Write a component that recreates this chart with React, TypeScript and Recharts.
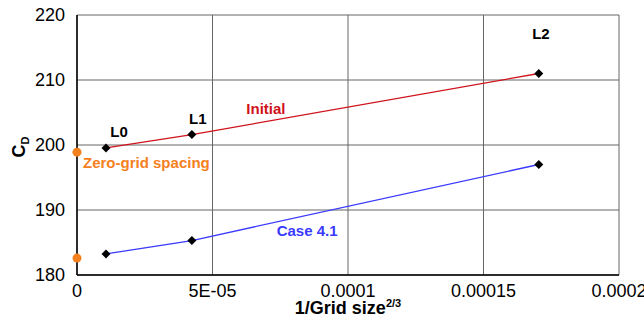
import React from "react";
import {
  ComposedChart,
  Line,
  Scatter,
  XAxis,
  YAxis,
  CartesianGrid,
  ReferenceDot,
} from "recharts";

const xTicks = [0, 0.00005, 0.0001, 0.00015, 0.0002];
const xTickLabels = ["0", "5E-05", "0.0001", "0.00015", "0.0002"];
const yTicks = [180, 190, 200, 210, 220];

const gridX = [0.0000107, 0.0000424, 0.0001704];
const initialCd = [199.55, 201.6, 211.0];
const case41Cd = [183.25, 185.3, 197.0];
const zeroGridCd = [198.9, 182.6];

const initialData = gridX.map((x, i) => ({ x, cd: initialCd[i] }));
const caseData = gridX.map((x, i) => ({ x, cd: case41Cd[i] }));
const zeroData = zeroGridCd.map((cd) => ({ x: 0, cd }));

// text annotations, placed in data space
const notes = [
  { text: "L0", x: 0.0000155, y: 202.05, color: "#000" },
  { text: "L1", x: 0.0000446, y: 204.13, color: "#000" },
  { text: "L2", x: 0.0001712, y: 217.23, color: "#000" },
  { text: "Initial", x: 0.0000697, y: 205.67, color: "#d0121b" },
  { text: "Case 4.1", x: 0.0000849, y: 186.87, color: "#3a3aff" },
  { text: "Zero-grid spacing", x: 0.0000256, y: 197.35, color: "#f5801e" },
];

const FONT = "'Liberation Sans', Arial, Helvetica, sans-serif";

const Diamond = (p: any) => {
  const { cx, cy } = p;
  if (cx == null || cy == null) return <g />;
  const s = 4.5;
  return (
    <polygon
      points={`${cx},${cy - s} ${cx + s},${cy} ${cx},${cy + s} ${cx - s},${cy}`}
      fill="#000"
    />
  );
};

const XLabel = (p: any) => {
  const vb = p.viewBox;
  return (
    <text
      x={vb.x + vb.width / 2}
      y={vb.y + 39}
      textAnchor="middle"
      fontFamily={FONT}
      fontWeight="bold"
      fontSize={18}
      fill="#000"
    >
      <tspan>1/Grid size</tspan>
      <tspan fontSize={11} dy={-7}>2/3</tspan>
    </text>
  );
};

const YLabel = () => (
  <text
    transform="translate(25,147) rotate(-90)"
    textAnchor="middle"
    fontFamily={FONT}
    fontWeight="bold"
    fill="#000"
  >
    <tspan fontSize={18}>C</tspan>
    <tspan fontSize={11} dy={4}>D</tspan>
  </text>
);

export default function App() {
  return (
    <div style={{ position: "absolute", left: 0, top: 0, background: "#fff" }}>
      <ComposedChart
        width={644}
        height={322}
        margin={{ top: 15, right: 25, bottom: 0, left: 0 }}
      >
        <CartesianGrid stroke="#666" strokeWidth={1} />
        <XAxis
          type="number"
          dataKey="x"
          domain={[0, 0.0002]}
          ticks={xTicks}
          tickFormatter={(v: number) => xTickLabels[xTicks.indexOf(v)] ?? String(v)}
          height={47}
          axisLine={{ stroke: "#000", strokeWidth: 1.5 }}
          tickLine={false}
          tick={{ fill: "#000", fontSize: 18, fontFamily: FONT }}
          tickMargin={3}
          label={{ content: XLabel }}
        />
        <YAxis
          type="number"
          dataKey="cd"
          domain={[180, 220]}
          ticks={yTicks}
          width={77}
          axisLine={{ stroke: "#000", strokeWidth: 1.5 }}
          tickLine={false}
          tick={{ fill: "#000", fontSize: 18, fontFamily: FONT }}
          tickMargin={6}
          label={{ content: YLabel }}
        />
        <Line
          data={initialData}
          dataKey="cd"
          stroke="#d0121b"
          strokeWidth={1.3}
          dot={Diamond}
          activeDot={false}
          isAnimationActive={false}
        />
        <Line
          data={caseData}
          dataKey="cd"
          stroke="#3a3aff"
          strokeWidth={1.3}
          dot={Diamond}
          activeDot={false}
          isAnimationActive={false}
        />
        <Scatter data={zeroData} dataKey="cd" fill="#f5801e" isAnimationActive={false} />
        {notes.map((n) => (
          <ReferenceDot
            key={n.text}
            x={n.x}
            y={n.y}
            r={0}
            shape={(p: any) => (
              <text
                x={p.cx}
                y={p.cy}
                textAnchor="middle"
                dominantBaseline="central"
                fontFamily={FONT}
                fontWeight="bold"
                fontSize={15}
                fill={n.color}
              >
                {n.text}
              </text>
            )}
          />
        ))}
      </ComposedChart>
    </div>
  );
}
